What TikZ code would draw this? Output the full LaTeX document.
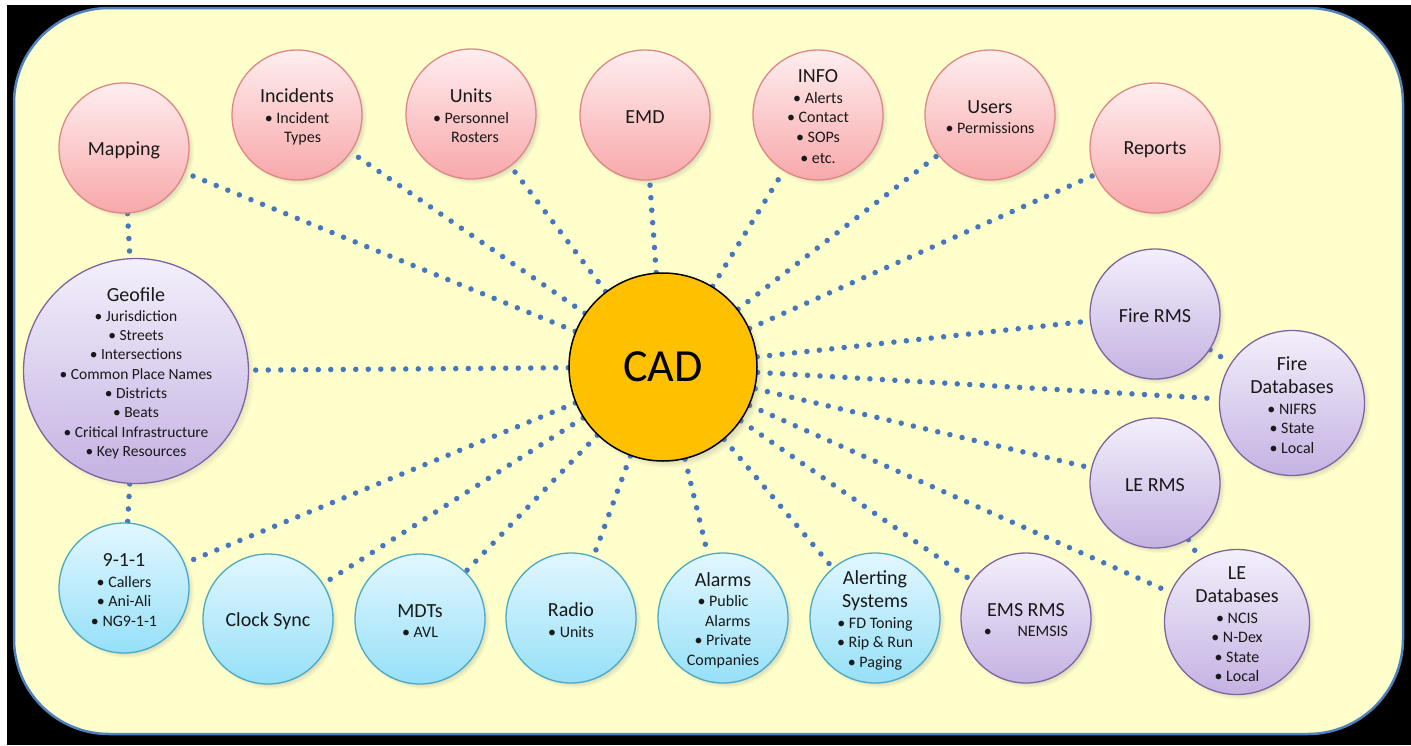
\documentclass[tikz,border=0pt]{standalone}
\usepackage{fontspec}
\setmainfont{Carlito}
\usetikzlibrary{shadows,fadings}
\definecolor{bgyel}{RGB}{255,255,204}
\definecolor{frameblue}{RGB}{79,129,189}
\definecolor{dotc}{RGB}{70,118,190}
\definecolor{pinkT}{RGB}{255,238,239}
\definecolor{pinkB}{RGB}{248,168,170}
\definecolor{pinkL}{RGB}{222,135,135}
\definecolor{purT}{RGB}{243,239,251}
\definecolor{purB}{RGB}{196,178,226}
\definecolor{purL}{RGB}{128,100,162}
\definecolor{bluT}{RGB}{226,247,255}
\definecolor{bluB}{RGB}{150,224,248}
\definecolor{bluL}{RGB}{75,168,198}
\definecolor{cadY}{RGB}{255,192,0}
\definecolor{txt}{RGB}{25,25,25}
\pgfdeclarelayer{bg}
\pgfsetlayers{bg,main}
\newcommand\ttl[1]{{\fontsize{20}{19.5}\selectfont #1}}
\tikzset{
  bubble/.style={circle, inner sep=0pt, minimum size=130pt, line width=1.3pt,
    circular drop shadow={shadow scale=1.03, shadow xshift=3pt, shadow yshift=-3pt, opacity=0.45}},
  pinkc/.style={bubble, draw=pinkL, top color=pinkT, bottom color=pinkB},
  purc/.style={bubble, draw=purL, top color=purT, bottom color=purB},
  bluc/.style={bubble, draw=bluL, top color=bluT, bottom color=bluB},
  big/.style={minimum size=145pt},
  lbl/.style={align=center, text=txt, font=\fontsize{16}{19.5}\selectfont, inner sep=0pt, yshift=-2pt},
  dotline/.style={draw=dotc, line width=5.5pt, line cap=round, dash pattern=on 0pt off 12.5pt},
  frame/.style={fill=bgyel, draw=frameblue, line width=2.5pt, rounded corners=95pt}
}
\begin{document}
\begin{tikzpicture}[x=1pt,y=-1pt]
\useasboundingbox (0,0) rectangle (1411,745);
\begin{pgfonlayer}{bg}
\fill[white] (0,0) rectangle (1411,745);
\fill[black] (7,5) rectangle (1411,745);
\draw[frame] (14,8) rectangle (1403,734);
\end{pgfonlayer}

% CAD
\node[circle, inner sep=0pt, minimum size=188pt, fill=cadY, draw=black, line width=1.5pt,
  circular drop shadow={shadow scale=1.03, shadow xshift=4pt, shadow yshift=-4pt, opacity=0.5},
  font=\fontsize{46}{50}\selectfont, text=black] (cad) at (663,367) {CAD};

% top row (pink)
\node[pinkc, label={[lbl]center:\ttl{Mapping}}] (map) at (124,148) {};
\node[pinkc, label={[lbl]center:\ttl{Incidents}\\[1pt]• Incident\\\hspace{0.7em}Types}] (inc) at (297,115) {};
\node[pinkc, label={[lbl]center:\ttl{Units}\\[1pt]• Personnel\\\hspace{0.5em}Rosters}] (unt) at (471,114) {};
\node[pinkc, label={[lbl]center:\ttl{EMD}}] (emd) at (645,115) {};
\node[pinkc, label={[lbl]center:\ttl{INFO}\\[1pt]• Alerts\\• Contact\\• SOPs\\[2pt]• etc.}] (inf) at (818,115) {};
\node[pinkc, label={[lbl]center:\ttl{Users}\\[1pt]• Permissions}] (usr) at (990,115) {};
\node[pinkc, label={[lbl]center:\ttl{Reports}}] (rep) at (1155,148) {};

% purple
\node[purc, minimum size=225pt, label={[lbl, font=\fontsize{15.5}{19.3}\selectfont]center:\ttl{Geofile}\\[1pt]• Jurisdiction\\• Streets\\• Intersections\\• Common Place Names\\• Districts\\• Beats\\• Critical Infrastructure\\• Key Resources}] (geo) at (136,371) {};
\node[purc, label={[lbl]center:\ttl{Fire RMS}}] (frms) at (1155,314) {};
\node[purc, big, label={[lbl]center:\ttl{Fire}\\[4pt]\ttl{Databases}\\[1pt]• NIFRS\\• State\\• Local}] (fdb) at (1292,403) {};
\node[purc, label={[lbl]center:\ttl{LE RMS}}] (lrms) at (1155,483) {};
\node[purc, big, label={[lbl]center:\ttl{LE}\\[4pt]\ttl{Databases}\\[1pt]• NCIS\\• N-Dex\\• State\\• Local}] (ldb) at (1237,622) {};
\node[purc, label={[lbl]center:\ttl{EMS RMS}\\[1pt]•\hspace{1.6em}NEMSIS}] (ems) at (1026,618) {};

% blue
\node[bluc, label={[lbl]center:\ttl{9-1-1}\\[1pt]• Callers\\• Ani-Ali\\• NG9-1-1}] (nine) at (124,588) {};
\node[bluc, label={[lbl]center:\ttl{Clock Sync}}] (clk) at (268,619) {};
\node[bluc, label={[lbl]center:\ttl{MDTs}\\[1pt]• AVL}] (mdt) at (420,619) {};
\node[bluc, label={[lbl]center:\ttl{Radio}\\[1pt]• Units}] (rad) at (571,618) {};
\node[bluc, label={[lbl]center:\ttl{Alarms}\\[1pt]• Public\\\hspace{0.6em}Alarms\\• Private\\Companies}] (alm) at (723,618) {};
\node[bluc, label={[lbl]center:\ttl{Alerting}\\[4pt]\ttl{Systems}\\[1pt]• FD Toning\\• Rip \& Run\\• Paging}] (alt) at (875,618) {};

\begin{pgfonlayer}{bg}
\foreach \n in {map,inc,unt,emd,inf,usr,rep,geo,frms,fdb,lrms,ldb,ems,nine,clk,mdt,rad,alm,alt}
  \draw[dotline] (cad) -- (\n);
\draw[dotline] (map) -- (geo);
\draw[dotline] (geo) -- (nine);
\draw[dotline] (frms) -- (fdb);
\draw[dotline] (lrms) -- (ldb);
\end{pgfonlayer}
\end{tikzpicture}
\end{document}
